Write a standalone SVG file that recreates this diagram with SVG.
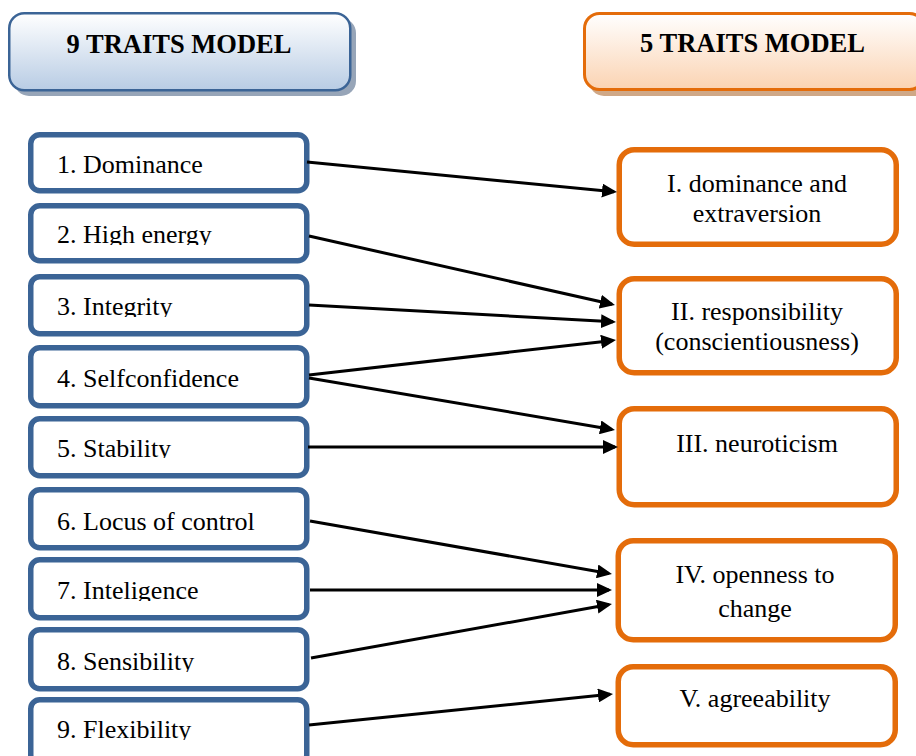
<svg xmlns="http://www.w3.org/2000/svg" width="916" height="756" viewBox="0 0 916 756">
<style>
text{font-family:"Liberation Serif","Times New Roman",serif;fill:#000;}
.hd{font-size:26.5px;font-weight:bold;text-anchor:middle;}
.lt{font-size:26px;}
.rt{font-size:26px;text-anchor:middle;}
.lb{fill:#fff;stroke:#3B6496;stroke-width:5.5;}
.rb{fill:#fff;stroke:#E46C0A;stroke-width:5.5;}
.cn{stroke:#000;stroke-width:3;fill:none;marker-end:url(#ah);}
</style>
<defs>
<linearGradient id="gb" x1="0" y1="0" x2="0" y2="1">
<stop offset="0" stop-color="#FFFFFF"/><stop offset="1" stop-color="#B8CCE4"/>
</linearGradient>
<linearGradient id="go" x1="0" y1="0" x2="0" y2="1">
<stop offset="0" stop-color="#FFFFFF"/><stop offset="1" stop-color="#FBD3B2"/>
</linearGradient>
<marker id="ah" markerUnits="userSpaceOnUse" markerWidth="16" markerHeight="14" refX="12" refY="7" orient="auto">
<path d="M0,0 L15,7 L0,14 Z" fill="#000"/>
</marker>
<clipPath id="c2"><rect x="30" y="200" width="280" height="45"/></clipPath>
<clipPath id="c3"><rect x="30" y="270" width="280" height="47"/></clipPath>
<clipPath id="c5"><rect x="30" y="410" width="280" height="48"/></clipPath>
<clipPath id="c7"><rect x="30" y="550" width="280" height="51"/></clipPath>
<clipPath id="c8"><rect x="30" y="620" width="280" height="52"/></clipPath>
<clipPath id="c9"><rect x="30" y="690" width="280" height="50"/></clipPath>
</defs>
<rect width="916" height="756" fill="#fff"/>

<g id="header-9">
<rect x="14" y="18" width="342" height="78" rx="15" fill="#97A5B8"/>
<rect x="9.25" y="13.25" width="341" height="77" rx="15" fill="url(#gb)" stroke="#3B6496" stroke-width="2.5"/>
<text class="hd" x="179" y="52.5">9 TRAITS MODEL</text>
</g>
<g id="header-5">
<rect x="589" y="18" width="340" height="78" rx="15" fill="#CFA887"/>
<rect x="584.5" y="13.5" width="340" height="76" rx="15" fill="url(#go)" stroke="#E46C0A" stroke-width="3"/>
<text class="hd" x="752.5" y="52">5 TRAITS MODEL</text>
</g>

<g id="t1"><rect class="lb" x="30.75" y="134.75" width="276" height="56" rx="9"/><text class="lt" x="57" y="173">1. Dominance</text></g>
<g id="t2"><rect class="lb" x="30.75" y="205.75" width="276" height="55" rx="9"/><text class="lt" x="57" y="243" clip-path="url(#c2)">2. High energy</text></g>
<g id="t3"><rect class="lb" x="30.75" y="276.75" width="276" height="57" rx="9"/><text class="lt" x="57" y="315" clip-path="url(#c3)">3. Integrity</text></g>
<g id="t4"><rect class="lb" x="30.75" y="347.75" width="276" height="58" rx="9"/><text class="lt" x="57" y="387">4. Selfconfidence</text></g>
<g id="t5"><rect class="lb" x="30.75" y="418.75" width="276" height="57" rx="9"/><text class="lt" x="57" y="456.5" clip-path="url(#c5)">5. Stability</text></g>
<g id="t6"><rect class="lb" x="30.75" y="489.75" width="276" height="58" rx="9"/><text class="lt" x="57" y="529.5">6. Locus of control</text></g>
<g id="t7"><rect class="lb" x="30.75" y="559.75" width="276" height="58" rx="9"/><text class="lt" x="57" y="599" clip-path="url(#c7)">7. Inteligence</text></g>
<g id="t8"><rect class="lb" x="30.75" y="629.75" width="276" height="59" rx="9"/><text class="lt" x="57" y="670" clip-path="url(#c8)">8. Sensibility</text></g>
<g id="t9"><rect class="lb" x="30.75" y="699.75" width="276" height="64" rx="9"/><text class="lt" x="57" y="738" clip-path="url(#c9)">9. Flexibility</text></g>

<g id="f1"><rect class="rb" x="619.25" y="149.75" width="277" height="94.5" rx="15"/><text class="rt" x="757" y="192">I. dominance and</text><text class="rt" x="757" y="222">extraversion</text></g>
<g id="f2"><rect class="rb" x="619.25" y="278.75" width="277" height="94" rx="15"/><text class="rt" x="757" y="320">II. responsibility</text><text class="rt" x="757" y="350">(conscientiousness)</text></g>
<g id="f3"><rect class="rb" x="619.25" y="408.75" width="277" height="96" rx="15"/><text class="rt" x="757" y="452">III. neuroticism</text></g>
<g id="f4"><rect class="rb" x="618.25" y="540.75" width="277" height="99" rx="15"/><text class="rt" x="755" y="583">IV. openness to</text><text class="rt" x="755" y="617">change</text></g>
<g id="f5"><rect class="rb" x="618.25" y="666.75" width="277" height="78" rx="15"/><text class="rt" x="755" y="707">V. agreeability</text></g>

<g id="connectors">
<line class="cn" x1="307" y1="162" x2="614" y2="191.7"/>
<line class="cn" x1="309" y1="236" x2="612" y2="304.3"/>
<line class="cn" x1="309" y1="305" x2="613" y2="321.8"/>
<line class="cn" x1="309" y1="375" x2="613" y2="340.4"/>
<line class="cn" x1="309" y1="378" x2="612" y2="429.4"/>
<line class="cn" x1="308" y1="447" x2="615" y2="447"/>
<line class="cn" x1="310" y1="521" x2="609" y2="573.5"/>
<line class="cn" x1="310" y1="590" x2="609" y2="590"/>
<line class="cn" x1="311" y1="658" x2="609" y2="604.6"/>
<line class="cn" x1="309" y1="725" x2="610" y2="694.3"/>
</g>
</svg>
